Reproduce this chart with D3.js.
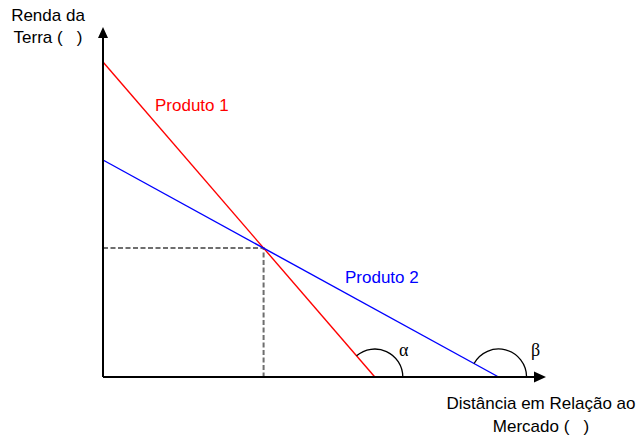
<!DOCTYPE html>
<html>
<head>
<meta charset="utf-8">
<script src="https://cdn.jsdelivr.net/npm/d3@7"></script>
<style>
  body { margin: 0; background: #fff; }
  text { font-family: "Liberation Sans", Arial, sans-serif; font-size: 17px; white-space: pre; }
</style>
</head>
<body>
<script>
// products: rent at the market (y intercept) and distance where rent hits zero
var produtos = ["Produto 1", "Produto 2"],
	rendaMax = [9, 6.2],
	distMax = [6.15, 8.95],
	cores = ["#ff0000", "#0000ff"],
	angulos = ["\u03b1", "\u03b2"];

var w = 641,
	h = 435;

var x = d3.scaleLinear().domain([0, 10]).range([103, 545]),
	y = d3.scaleLinear().domain([0, 10]).range([377, 27]);

var svg = d3.select("body")
	.append("svg")
	.attr("width", w)
	.attr("height", h);

// intersection of the two lines
var s1 = rendaMax[0] / distMax[0],
	s2 = rendaMax[1] / distMax[1],
	xi = (rendaMax[0] - rendaMax[1]) / (s1 - s2),
	yi = rendaMax[0] - s1 * xi;

// dashed guides
svg.append("path")
	.attr("d", "M" + x(0) + "," + y(yi) + "H" + x(xi) + "V" + y(0))
	.attr("fill", "none")
	.attr("stroke", "#6e6e6e")
	.attr("stroke-width", 2)
	.attr("stroke-dasharray", "5,2.5");

// product lines
svg.selectAll("line.prod")
	.data(produtos)
	.enter()
	.append("line")
	.attr("class", "prod")
	.attr("x1", x(0))
	.attr("y1", function (d, i) { return y(rendaMax[i]); })
	.attr("x2", function (d, i) { return x(distMax[i]); })
	.attr("y2", y(0))
	.attr("stroke", function (d, i) { return cores[i]; })
	.attr("stroke-width", 1.4);

// angle arcs at x intercepts
var r = 28;
svg.selectAll("path.arc")
	.data(produtos)
	.enter()
	.append("path")
	.attr("class", "arc")
	.attr("d", function (d, i) {
		var cx = x(distMax[i]), cy = y(0),
			dx = x(0) - cx, dy = y(rendaMax[i]) - cy,
			len = Math.sqrt(dx * dx + dy * dy),
			sx = cx + r * dx / len, sy = cy + r * dy / len;
		return "M" + sx + "," + sy + "A" + r + "," + r + " 0 0 1 " + (cx + r) + "," + cy;
	})
	.attr("fill", "none")
	.attr("stroke", "#000")
	.attr("stroke-width", 1.3);

svg.selectAll("text.ang")
	.data(angulos)
	.enter()
	.append("text")
	.attr("class", "ang")
	.attr("x", function (d, i) { return x(distMax[i]) + [29, 37][i]; })
	.attr("y", 356)
	.attr("text-anchor", "middle")
	.style("font-family", "'Liberation Serif', 'DejaVu Serif', serif")
	.style("font-size", "18px")
	.text(function (d) { return d; });

// product labels
svg.selectAll("text.prod")
	.data(produtos)
	.enter()
	.append("text")
	.attr("class", "prod")
	.attr("x", function (d, i) { return [155, 345][i]; })
	.attr("y", function (d, i) { return [111, 283][i]; })
	.attr("fill", function (d, i) { return cores[i]; })
	.text(function (d) { return d; });

// axes with arrowheads
svg.append("path")
	.attr("d", "M" + x(0) + "," + y(0) + "V36 M" + x(0) + "," + y(0) + "H535")
	.attr("stroke", "#000")
	.attr("stroke-width", 2)
	.attr("fill", "none");

svg.append("path")
	.attr("d", "M103,27 L98,38 L108,38 Z M546,377 L534,371.5 L534,382.5 Z")
	.attr("fill", "#000");

// axis titles
svg.selectAll("text.ylab")
	.data(["Renda da", "Terra (   )"])
	.enter()
	.append("text")
	.attr("class", "ylab")
	.attr("x", 48)
	.attr("y", function (d, i) { return 21 + i * 22; })
	.attr("text-anchor", "middle")
	.text(function (d) { return d; });

svg.selectAll("text.xlab")
	.data(["Dist\u00e2ncia em Rela\u00e7\u00e3o ao", "Mercado (   )"])
	.enter()
	.append("text")
	.attr("class", "xlab")
	.attr("x", 541)
	.attr("y", function (d, i) { return 409 + i * 23; })
	.attr("text-anchor", "middle")
	.text(function (d) { return d; });
</script>
</body>
</html>
